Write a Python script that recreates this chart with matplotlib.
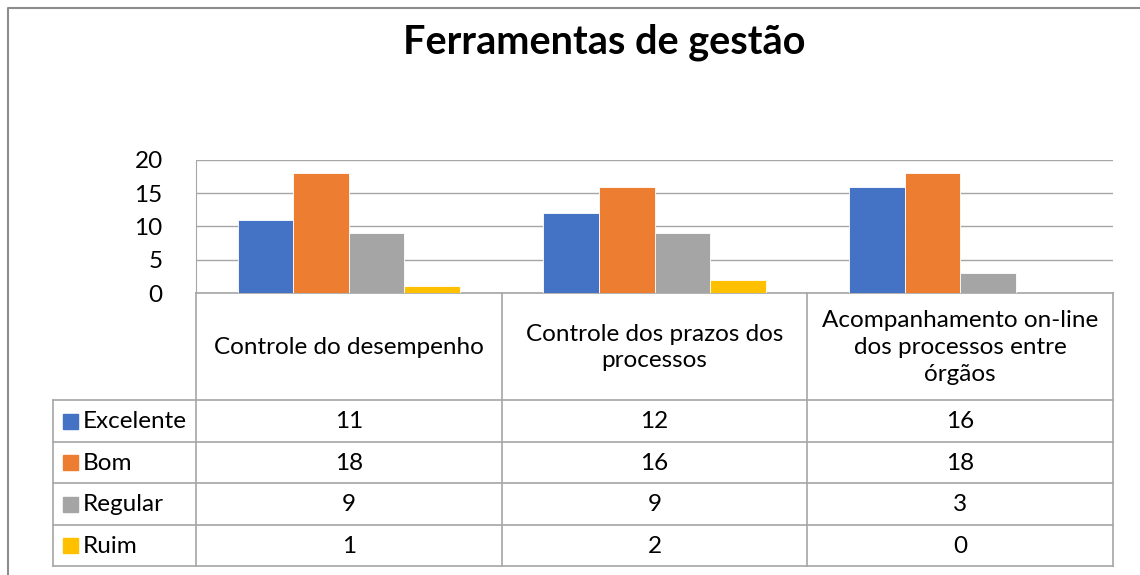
import numpy as np
import matplotlib.pyplot as plt

categories = ["Controle do desempenho",
              "Controle dos prazos dos\nprocessos",
              "Acompanhamento on-line\ndos processos entre\nórgãos"]
series = ["Excelente", "Bom", "Regular", "Ruim"]
excelente = [11, 12, 16]
bom = [18, 16, 18]
regular = [9, 9, 3]
ruim = [1, 2, 0]
values = [excelente, bom, regular, ruim]
colors = ["#4472C4", "#ED7D31", "#A5A5A5", "#FFC000"]
yticks = [0, 5, 10, 15, 20]

plt.rcParams['font.family'] = ['Lato', 'DejaVu Sans']

W, H = 1140, 575
fig = plt.figure(figsize=(W / 100, H / 100), dpi=100)

# pixel-space overlay for border, title and table
ov = fig.add_axes([0, 0, 1, 1])
ov.set_xlim(0, W)
ov.set_ylim(H, 0)
ov.axis('off')

grid_c = "#A6A6A6"
ov.plot([8, 8, W], [H, 8, 8], color="#8C8C8C", lw=1.5)

ov.text(604, 42, "Ferramentas de gestão", ha='center', va='center',
        fontsize=28.5, fontweight='bold', color='black')

# bar axes
x0, x1, ytop, ybot = 196, 1113, 160, 293
ax = fig.add_axes([x0 / W, 1 - ybot / H, (x1 - x0) / W, (ybot - ytop) / H])
n = len(categories)
x = np.arange(n)
w = 0.1818
for i, (s, v, c) in enumerate(zip(series, values, colors)):
    ax.bar(x + (i - 1.5) * w, v, width=w, color=c, edgecolor='white', lw=0.6, zorder=3)
ax.set_xlim(-0.5, n - 0.5)
ax.set_ylim(0, 20)
ax.set_yticks(yticks)
ax.set_yticklabels([str(t) for t in yticks], fontsize=17.5)
ax.set_xticks([])
ax.tick_params(axis='y', length=0, pad=24)
ax.grid(axis='y', color=grid_c, lw=1, zorder=0)
for sp in ['top', 'right', 'bottom']:
    ax.spines[sp].set_visible(False)
ax.spines['left'].set_color(grid_c)
ax.set_facecolor('none')

# data table
row_top = 400
row_h = 41.5
tbl_bot = row_top + row_h * len(series)
col_w = (x1 - x0) / n
lw = 1.2
for k in range(n + 1):
    xx = x0 + k * col_w
    ov.plot([xx, xx], [ybot, tbl_bot], color=grid_c, lw=lw)
ov.plot([x0, x1], [ybot, ybot], color=grid_c, lw=lw)
ov.plot([53, 53], [row_top, tbl_bot], color=grid_c, lw=lw)
for r in range(len(series) + 1):
    yy = row_top + r * row_h
    ov.plot([53, x1], [yy, yy], color=grid_c, lw=lw)

for k, cat in enumerate(categories):
    ov.text(x0 + (k + 0.5) * col_w, (ybot + row_top) / 2 + 1, cat, ha='center',
            va='center', fontsize=17.5, linespacing=1.35)

for r, (s, v, c) in enumerate(zip(series, values, colors)):
    yc = row_top + (r + 0.5) * row_h
    ov.add_patch(plt.Rectangle((63, yc - 7), 15, 15, color=c))
    ov.text(83, yc + 1, s, ha='left', va='center', fontsize=17.5)
    for k in range(n):
        ov.text(x0 + (k + 0.5) * col_w, yc + 1, str(v[k]), ha='center',
                va='center', fontsize=17.5)

fig.savefig("out.png", dpi=100)
